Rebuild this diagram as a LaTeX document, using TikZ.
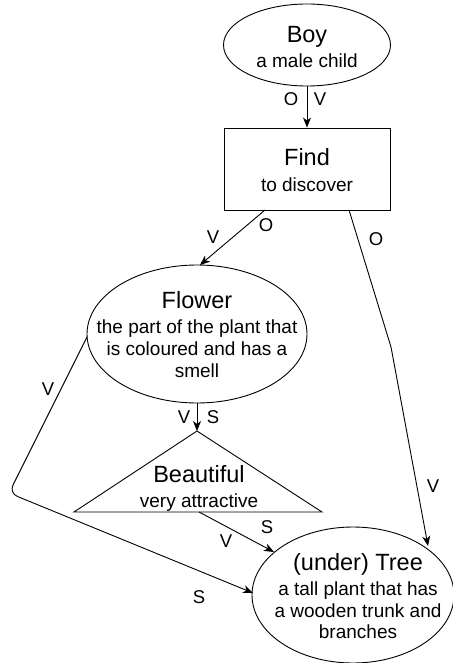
\documentclass[tikz,border=0pt]{standalone}
\usepackage{fontspec}
\setmainfont{Liberation Sans}
\usetikzlibrary{shapes.geometric,arrows.meta}
\begin{document}
\begin{tikzpicture}[x=1pt,y=-1pt,
  line width=0.9pt,
  oval/.style={draw,ellipse,inner sep=0pt},
  box/.style={draw,rectangle,inner sep=0pt},
  title/.style={anchor=base,inner sep=0pt,font=\fontsize{23.5}{28}\selectfont},
  sub/.style={anchor=base,inner sep=0pt,font=\fontsize{19}{22}\selectfont},
  tag/.style={anchor=base,inner sep=0pt,font=\fontsize{18.5}{22}\selectfont},
  link/.style={draw,-{Stealth[length=10pt,width=8pt,inset=3pt]}},
  plain/.style={draw}]
\useasboundingbox (0,0) rectangle (452,663);

% concept shapes
\node[oval,minimum width=167pt,minimum height=82pt] (boy) at (307,45) {};
\node[box,minimum width=166pt,minimum height=82pt] (find) at (307,169) {};
\node[oval,minimum width=220pt,minimum height=138pt] (flower) at (197,334) {};
\node[oval,minimum width=202pt,minimum height=136pt] (tree) at (353,595) {};
\coordinate (apex) at (197,431);
\coordinate (bl) at (74,512);
\coordinate (br) at (322,512);
\coordinate (bmid) at (199,512);
\draw (apex) -- (bl) -- (br) -- cycle;

% texts
\node[title] (boyT) at (307,43) {Boy};
\node[sub] (boyS) at (307,68) {a male child};
\node[title] (findT) at (307,165) {Find};
\node[sub] (findS) at (307,191) {to discover};
\node[title] (flowerT) at (197,308) {Flower};
\node[sub] (flowerS1) at (197,333) {the part of the plant that};
\node[sub] (flowerS2) at (197,355) {is coloured and has a};
\node[sub] (flowerS3) at (197,377) {smell};
\node[title] (beauT) at (199,482) {Beautiful};
\node[sub] (beauS) at (199,507) {very attractive};
\node[title] (treeT) at (358,570) {(under) Tree};
\node[sub] (treeS1) at (358,595) {a tall plant that has};
\node[sub] (treeS2) at (358,617) {a wooden trunk and};
\node[sub] (treeS3) at (358,638) {branches};

% connectors
\coordinate (findA) at (265,210);
\coordinate (flowerTop) at (200,265);
\coordinate (findB) at (349,210);
\coordinate (bendR) at (391,347);
\coordinate (treeTop) at (428,546);
\coordinate (flowerL) at (87,337);
\coordinate (cornerL) at (9,493);
\coordinate (treeL) at (253,593);
\coordinate (treeUL) at (274,552);

\path[link] (boy.south) -- (find.north);
\path[link] (findA) -- (flowerTop);
\path[link] (findB) -- (bendR) -- (treeTop);
\path[link,rounded corners=9pt] (flowerL) -- (cornerL) -- (treeL);
\path[link] (flower.south) -- (apex);
\path[link] (bmid) -- (treeUL);

% connector labels
\node[tag] (l1) at (291,106) {O};
\node[tag] (l2) at (320,106) {V};
\node[tag] (l3) at (266,231) {O};
\node[tag] (l4) at (213,243) {V};
\node[tag] (l5) at (376,245) {O};
\node[tag] (l6) at (433,492) {V};
\node[tag] (l7) at (48,395) {V};
\node[tag] (l8) at (199,603) {S};
\node[tag] (l9) at (184,423) {V};
\node[tag] (l10) at (213,423) {S};
\node[tag] (l11) at (226,547) {V};
\node[tag] (l12) at (267,533) {S};
\end{tikzpicture}
\end{document}
